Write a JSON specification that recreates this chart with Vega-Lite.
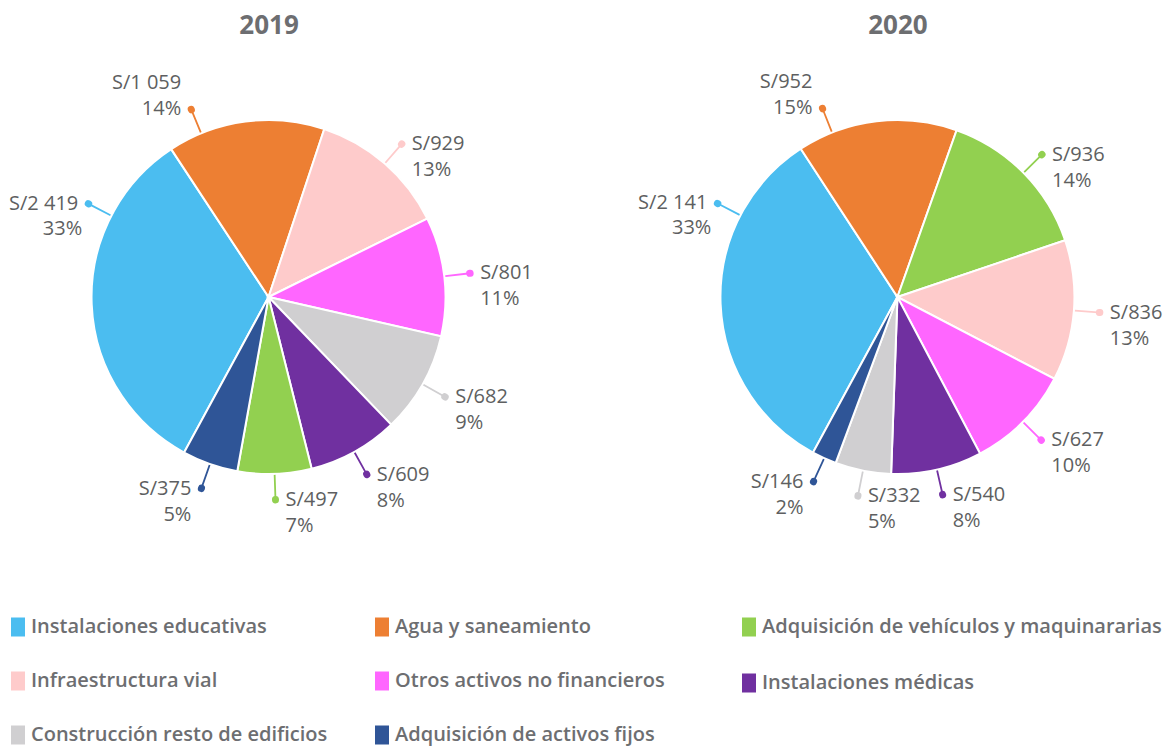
{
  "$schema": "https://vega.github.io/schema/vega-lite/v6.json",
  "width": 1166,
  "height": 506,
  "autosize": {"type": "none"},
  "padding": {"top": 44, "left": 0, "right": 0, "bottom": 196},
  "background": "white",
  "config": {
    "view": {"stroke": null},
    "font": "Open Sans",
    "locale": {"number": {"decimal": ".", "thousands": " ", "grouping": [3], "currency": ["S/", ""]}}
  },
  "data": {"values": [
    {"year": "2019", "category": "Instalaciones educativas", "value": 2419, "share": 0.33},
    {"year": "2019", "category": "Agua y saneamiento", "value": 1059, "share": 0.14},
    {"year": "2019", "category": "Infraestructura vial", "value": 929, "share": 0.13},
    {"year": "2019", "category": "Otros activos no financieros", "value": 801, "share": 0.11},
    {"year": "2019", "category": "Construcción resto de edificios", "value": 682, "share": 0.09},
    {"year": "2019", "category": "Instalaciones médicas", "value": 609, "share": 0.08},
    {"year": "2019", "category": "Adquisición de vehículos y maquinararias", "value": 497, "share": 0.07},
    {"year": "2019", "category": "Adquisición de activos fijos", "value": 375, "share": 0.05},
    {"year": "2020", "category": "Instalaciones educativas", "value": 2141, "share": 0.33},
    {"year": "2020", "category": "Agua y saneamiento", "value": 952, "share": 0.15},
    {"year": "2020", "category": "Adquisición de vehículos y maquinararias", "value": 936, "share": 0.14},
    {"year": "2020", "category": "Infraestructura vial", "value": 836, "share": 0.13},
    {"year": "2020", "category": "Otros activos no financieros", "value": 627, "share": 0.10},
    {"year": "2020", "category": "Instalaciones médicas", "value": 540, "share": 0.08},
    {"year": "2020", "category": "Construcción resto de edificios", "value": 332, "share": 0.05},
    {"year": "2020", "category": "Adquisición de activos fijos", "value": 146, "share": 0.02}
  ]},
  "transform": [
    {"stack": "value", "groupby": ["year"], "sort": [{"field": "value", "order": "descending"}], "offset": "normalize", "as": ["v0", "v1"]}
  ],
  "encoding": {
    "x": {
      "field": "year", "type": "nominal",
      "scale": {"type": "point", "padding": 0.427},
      "axis": {"orient": "top", "title": null, "domain": false, "ticks": false, "tickSize": 0, "grid": false, "labelAngle": 0, "labelPadding": 6, "labelFontSize": 26, "labelFontWeight": "bold", "labelColor": "#6d6e71", "labelFont": "Open Sans"}
    }
  },
  "layer": [
    {
      "encoding": {
        "theta": {"field": "v0", "type": "quantitative", "stack": null, "scale": {"domain": [0, 1], "range": [3.639, 9.922]}},
        "theta2": {"field": "v1"}
      },
      "layer": [
        {
          "mark": {"type": "arc", "outerRadius": 177, "stroke": "white", "strokeWidth": 2},
          "encoding": {
            "fill": {
              "field": "category", "type": "nominal",
              "scale": {
                "domain": ["Instalaciones educativas", "Agua y saneamiento", "Adquisición de vehículos y maquinararias", "Infraestructura vial", "Otros activos no financieros", "Instalaciones médicas", "Construcción resto de edificios", "Adquisición de activos fijos"],
                "range": ["#4BBDF0", "#ED7F33", "#92D050", "#FECBCB", "#FF66FF", "#7030A0", "#D0CFD1", "#2F5597"]
              },
              "legend": {
                "title": null, "orient": "none", "legendX": 8, "legendY": 573,
                "columns": 2, "direction": "horizontal",
                "values": ["Instalaciones educativas", "Agua y saneamiento", "Infraestructura vial", "Otros activos no financieros", "Construcción resto de edificios", "Adquisición de activos fijos"],
                "symbolType": "M-0.737,-1H0.737V1H-0.737Z", "symbolSize": 361, "symbolStrokeWidth": 0,
                "labelFontSize": 20, "labelFont": "Open Sans", "labelFontWeight": 600, "labelColor": "#6d6e71",
                "labelLimit": 600, "rowPadding": 34, "columnPadding": 44, "labelOffset": 3, "padding": 0
              }
            }
          }
        },
        {
          "transform": [{"filter": {"not": {"field": "category", "oneOf": ["Instalaciones educativas", "Agua y saneamiento"]}}}],
          "mark": {"type": "arc", "filled": false, "outerRadius": 201, "innerRadius": 178, "padAngle": 3.1416, "strokeWidth": 1.8},
          "encoding": {
            "stroke": {
              "field": "category", "type": "nominal",
              "scale": {
                "domain": ["Adquisición de vehículos y maquinararias", "Instalaciones médicas", "Instalaciones educativas", "Agua y saneamiento", "Infraestructura vial", "Otros activos no financieros", "Construcción resto de edificios", "Adquisición de activos fijos"],
                "range": ["#92D050", "#7030A0", "#4BBDF0", "#ED7F33", "#FECBCB", "#FF66FF", "#D0CFD1", "#2F5597"]
              },
              "legend": {
                "title": null, "orient": "none", "legendX": 736, "legendY": 570,
                "columns": 1, "direction": "vertical",
                "values": ["Adquisición de vehículos y maquinararias", "Instalaciones médicas"],
                "symbolType": "M-0.368,-0.632H0.368V0.632H-0.368Z", "symbolSize": 361, "symbolStrokeWidth": 7,
                "labelFontSize": 20, "labelFont": "Open Sans", "labelFontWeight": 600, "labelColor": "#6d6e71",
                "labelLimit": 600, "rowPadding": 14, "labelOffset": 0, "padding": 0
              }
            }
          }
        },
        {
          "transform": [{"filter": {"field": "category", "equal": "Instalaciones educativas"}}],
          "mark": {"type": "arc", "filled": false, "outerRadius": 201, "innerRadius": 178, "padAngle": 3.1416, "strokeWidth": 1.8, "thetaOffset": 0.52, "theta2Offset": 0.52},
          "encoding": {"stroke": {"field": "category", "type": "nominal", "legend": null}}
        },
        {
          "transform": [{"filter": {"field": "category", "equal": "Agua y saneamiento"}}],
          "mark": {"type": "arc", "filled": false, "outerRadius": 201, "innerRadius": 178, "padAngle": 3.1416, "strokeWidth": 1.8, "thetaOffset": -0.26, "theta2Offset": -0.26},
          "encoding": {"stroke": {"field": "category", "type": "nominal", "legend": null}}
        },
        {
          "transform": [{"filter": {"not": {"field": "category", "oneOf": ["Instalaciones educativas", "Agua y saneamiento"]}}}],
          "mark": {"type": "arc", "filled": false, "outerRadius": 203, "innerRadius": 202.5, "padAngle": 3.1416, "strokeWidth": 7, "strokeJoin": "round", "strokeCap": "round"},
          "encoding": {"stroke": {"field": "category", "type": "nominal", "legend": null}}
        },
        {
          "transform": [{"filter": {"field": "category", "equal": "Instalaciones educativas"}}],
          "mark": {"type": "arc", "filled": false, "outerRadius": 203, "innerRadius": 202.5, "padAngle": 3.1416, "strokeWidth": 7, "strokeJoin": "round", "strokeCap": "round", "thetaOffset": 0.52, "theta2Offset": 0.52},
          "encoding": {"stroke": {"field": "category", "type": "nominal", "legend": null}}
        },
        {
          "transform": [{"filter": {"field": "category", "equal": "Agua y saneamiento"}}],
          "mark": {"type": "arc", "filled": false, "outerRadius": 203, "innerRadius": 202.5, "padAngle": 3.1416, "strokeWidth": 7, "strokeJoin": "round", "strokeCap": "round", "thetaOffset": -0.26, "theta2Offset": -0.26},
          "encoding": {"stroke": {"field": "category", "type": "nominal", "legend": null}}
        }
      ]
    },
    {
      "transform": [
        {"fold": ["v0", "v1"], "as": ["edge", "angle"]},
        {"aggregate": [{"op": "mean", "field": "angle", "as": "mid"}, {"op": "max", "field": "value", "as": "value"}, {"op": "max", "field": "share", "as": "share"}], "groupby": ["year", "category"]}
      ],
      "encoding": {
        "theta": {"field": "mid", "type": "quantitative", "stack": null, "scale": {"domain": [0, 1], "range": [3.639, 9.922]}}
      },
      "layer": [
        {
          "transform": [{"filter": {"field": "category", "oneOf": ["Adquisición de vehículos y maquinararias", "Infraestructura vial", "Otros activos no financieros", "Instalaciones médicas", "Construcción resto de edificios"]}}],
          "mark": {"type": "text", "radius": 203, "align": "left", "baseline": "middle", "dx": 10, "fontSize": 20, "color": "#5e5f61"},
          "encoding": {"text": {"field": "value", "type": "quantitative", "format": "$,d"}}
        },
        {
          "transform": [{"filter": {"field": "category", "oneOf": ["Adquisición de vehículos y maquinararias", "Infraestructura vial", "Otros activos no financieros", "Instalaciones médicas", "Construcción resto de edificios"]}}],
          "mark": {"type": "text", "radius": 203, "align": "left", "baseline": "middle", "dx": 10, "dy": 26, "fontSize": 20, "color": "#5e5f61"},
          "encoding": {"text": {"field": "share", "type": "quantitative", "format": ".0%"}}
        },
        {
          "transform": [{"filter": {"field": "category", "equal": "Adquisición de activos fijos"}}],
          "mark": {"type": "text", "radius": 203, "align": "right", "baseline": "middle", "dx": -10, "fontSize": 20, "color": "#5e5f61"},
          "encoding": {"text": {"field": "value", "type": "quantitative", "format": "$,d"}}
        },
        {
          "transform": [{"filter": {"field": "category", "equal": "Adquisición de activos fijos"}}],
          "mark": {"type": "text", "radius": 203, "align": "right", "baseline": "middle", "dx": -10, "dy": 26, "fontSize": 20, "color": "#5e5f61"},
          "encoding": {"text": {"field": "share", "type": "quantitative", "format": ".0%"}}
        },
        {
          "transform": [{"filter": {"field": "category", "equal": "Agua y saneamiento"}}],
          "mark": {"type": "text", "radius": 203, "align": "right", "baseline": "middle", "dx": -10, "dy": -26, "fontSize": 20, "color": "#5e5f61", "thetaOffset": -0.26},
          "encoding": {"text": {"field": "value", "type": "quantitative", "format": "$,d"}}
        },
        {
          "transform": [{"filter": {"field": "category", "equal": "Agua y saneamiento"}}],
          "mark": {"type": "text", "radius": 203, "align": "right", "baseline": "middle", "dx": -10, "fontSize": 20, "color": "#5e5f61", "thetaOffset": -0.26},
          "encoding": {"text": {"field": "share", "type": "quantitative", "format": ".0%"}}
        },
        {
          "transform": [{"filter": {"field": "category", "equal": "Instalaciones educativas"}}],
          "mark": {"type": "text", "radius": 203, "align": "right", "baseline": "middle", "dx": -10, "fontSize": 20, "color": "#5e5f61", "thetaOffset": 0.52},
          "encoding": {"text": {"field": "value", "type": "quantitative", "format": "$,d"}}
        },
        {
          "transform": [{"filter": {"field": "category", "equal": "Instalaciones educativas"}}],
          "mark": {"type": "text", "radius": 203, "align": "right", "baseline": "middle", "dx": -6, "dy": 25, "fontSize": 20, "color": "#5e5f61", "thetaOffset": 0.52},
          "encoding": {"text": {"field": "share", "type": "quantitative", "format": ".0%"}}
        }
      ]
    }
  ]
}
